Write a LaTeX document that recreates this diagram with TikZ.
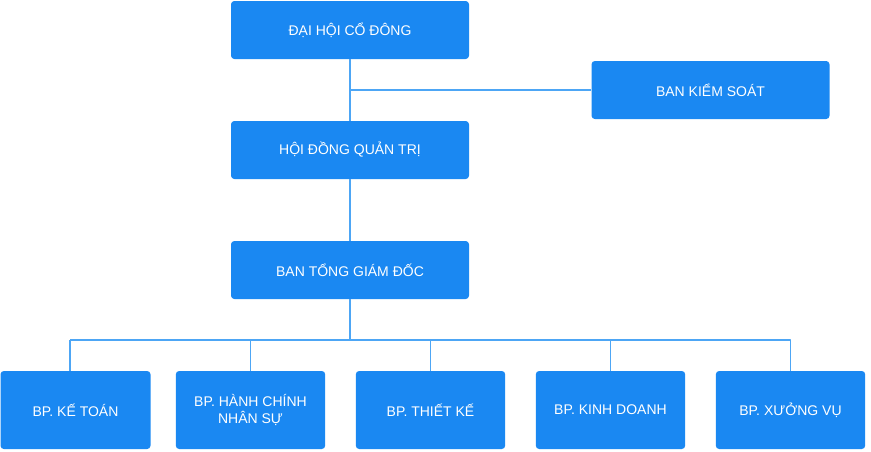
\documentclass[tikz,border=0pt]{standalone}
\usepackage{fontspec}
\setmainfont{Liberation Sans}
\definecolor{boxblue}{HTML}{1A88F2}
\definecolor{lineblue}{HTML}{4DA6F5}
\begin{document}
\begin{tikzpicture}[x=0.75pt, y=-0.75pt, line join=round,
  unit/.style={fill=boxblue, rounded corners=2.5pt, text=white, font=\fontsize{10.5}{12.5}\selectfont,
    align=center, inner sep=0pt},
  big/.style={unit, minimum width=178.5pt, minimum height=43.5pt},
  small/.style={unit, minimum width=112pt, minimum height=58.5pt},
  link/.style={draw=lineblue, line width=1.1pt}]
\useasboundingbox (0,0) rectangle (871,451);
\node[big] (dh) at (350,30) {ĐẠI HỘI CỔ ĐÔNG};
\node[big] (ks) at (710.5,90) {BAN KIỂM SOÁT};
\node[big] (hd) at (350,150) {HỘI ĐỒNG QUẢN TRỊ};
\node[big] (gd) at (350,270) {BAN TỔNG GIÁM ĐỐC};
\path
  (350,90) coordinate (m)
  (350,340) coordinate (b)
  (70,340) coordinate (b1)
  (70,371) coordinate (t1);
\node[small, minimum width=112.5pt] (kt) at (75.5,410) {BP. KẾ TOÁN};
\node[small] (hc) at (250.5,410) {BP. HÀNH CHÍNH\\NHÂN SỰ};
\node[small] (tk) at (430.5,410) {BP. THIẾT KẾ};
\node[small] (kd) at (610.5,410) {BP. KINH DOANH};
\node[small] (xv) at (790.5,410) {BP. XƯỞNG VỤ};
\draw[link] (dh) -- (hd);
\draw[link] (m) -- (ks);
\draw[link] (hd) -- (gd);
\draw[link] (gd) -- (b);
\draw[link] (b1) -- (b -| xv) -- (xv);
\draw[link] (b1) -- (t1);
\foreach \unit in {hc, tk, kd}
  \draw[link] (b -| \unit) -- (\unit);
\end{tikzpicture}
\end{document}
